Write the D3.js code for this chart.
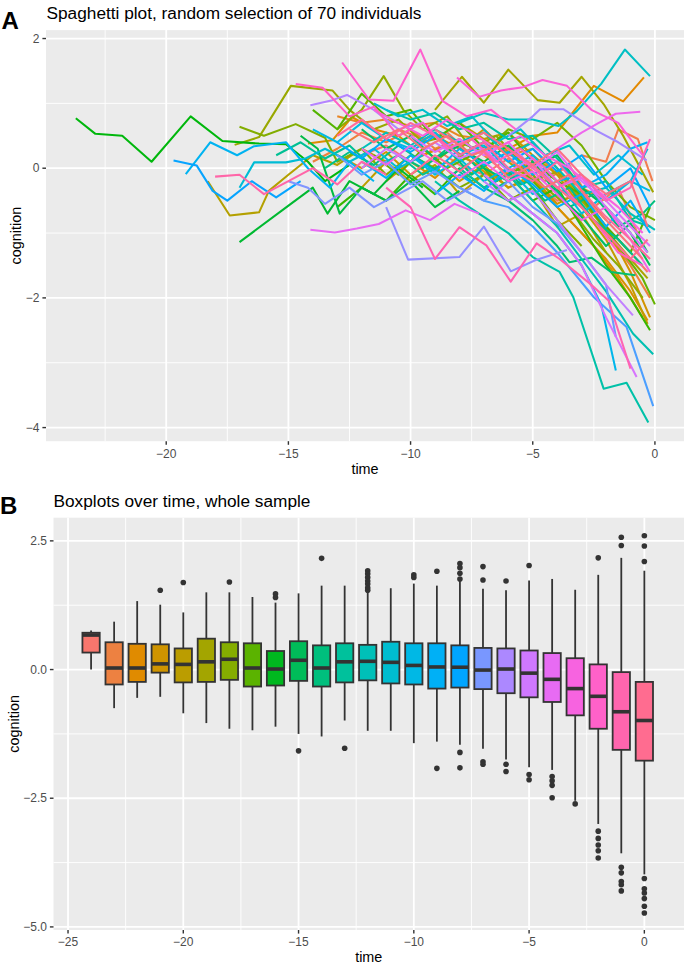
<!DOCTYPE html>
<html><head><meta charset="utf-8">
<script src="https://cdn.jsdelivr.net/npm/d3@7"></script>
<style>body{margin:0;background:#fff;} svg{display:block;font-family:"Liberation Sans",Arial,sans-serif;}</style>
</head><body><svg id="chart" width="685" height="963"></svg>
<script>
// ---------- Panel A: spaghetti data (time, cognition) for 70 individuals ----------
const spagLines = [
 [[-12,0.2],[-11,0.35],[-10,0.1],[-9,0.3],[-8,0.05],[-7,-0.1],[-6,0.15],[-5,-0.2],[-4,-0.5],[-3,-0.4],[-2,-0.9],[-1,-1.3],[-0.3,-1.6]],
 [[-10.5,0.6],[-9.5,0.45],[-8.5,0.55],[-7.5,0.2],[-6.5,0.35],[-5.5,0.1],[-4.5,-0.2],[-3.5,0.05],[-2.5,-0.6],[-1.5,-0.3],[-0.6,-1.1]],
 [[-3,0.2],[-2,0.1],[-1.5,0.6],[-0.7,0.45],[-0.1,-0.2]],
 [[-14,0.1],[-13,0.3],[-12,0.55],[-11,0.4],[-10,0.6],[-9,0.3],[-8,0.45],[-7,0.2],[-6,-0.1],[-5,0.1],[-4,-0.3],[-3,-0.6],[-2,-1.0],[-1,-1.5],[-0.2,-2.0]],
 [[-13,0.8],[-12,0.7],[-11,0.75],[-10,0.65],[-9,0.7],[-8,0.5],[-7,0.45],[-6,0.2],[-5,0.3],[-4,-0.1],[-3,-0.3],[-2,-0.5]],
 [[-6,0.3],[-5,0.5],[-4,0.55],[-3.4,0.84],[-2.5,1.27],[-1.3,1.03],[-0.45,1.40]],
 [[-14.2,0.38],[-13.2,0.43],[-12.4,0.79],[-11.5,0.6],[-10.5,0.5],[-9.5,0.2],[-8.5,0.35],[-7.5,0.1],[-6.5,-0.2],[-5.5,0.05],[-4.5,-0.4],[-3.5,-0.8],[-2.5,-1.2],[-1.5,-1.7],[-0.5,-2.3]],
 [[-11,-0.2],[-10,0.1],[-9,-0.15],[-8,0.2],[-7,0.0],[-6,-0.3],[-5,-0.1],[-4,-0.6],[-3,-1.0],[-2,-1.4],[-1,-1.9],[-0.3,-2.35]],
 [[-9,0.5],[-8,0.3],[-7,0.6],[-6,0.25],[-5,0.4],[-4,0.0],[-3,-0.5],[-2,-0.9],[-1,-1.6],[-0.2,-2.3]],
 [[-13,0.2],[-12,0.0],[-11,0.25],[-10,-0.1],[-9,0.15],[-8,-0.2],[-7,0.05],[-6,-0.3],[-5,-0.15],[-4,-0.55],[-3,-0.35],[-2,-0.8]],
 [[-8,0.7],[-7,0.45],[-6,0.55],[-5,0.2],[-4,-0.1],[-3,-0.6],[-2,-1.1],[-1,-1.8],[-0.3,-2.4]],
 [[-12,-0.3],[-11,0.1],[-10,-0.2],[-9,0.05],[-8,-0.4],[-7,-0.1],[-6,-0.5],[-5,-0.3],[-4,-0.9],[-3,-0.7],[-2,-1.3]],
 [[-18.3,-0.2],[-17.4,-0.73],[-16.2,-0.68],[-15.8,-0.35],[-15,-0.1],[-14,0.2],[-13,0.05],[-12,0.3],[-11,0.1]],
 [[-10,0.3],[-9,0.55],[-8,0.2],[-7,0.4],[-6,0.1],[-5,-0.2],[-4,-0.05],[-3,-0.5],[-2,-0.95],[-1,-1.4],[-0.3,-1.7]],
 [[-9,0.9],[-7.9,1.41],[-7.0,1.01],[-6.0,1.52],[-4.8,1.05],[-3.9,1.01],[-3.0,1.41],[-2.1,0.99],[-1.3,0.50],[-0.07,-0.37]],
 [[-17.2,0.36],[-16.2,0.48],[-14.9,1.27],[-13.2,1.20],[-12.5,0.9],[-11.5,0.6],[-10.5,0.75],[-9.5,0.4],[-8.5,0.5],[-7.5,0.2]],
 [[-13,0.6],[-12,0.9],[-11.1,1.42],[-10.3,0.9],[-9.5,0.6],[-8.5,0.8],[-7.5,0.3],[-6.5,0.5],[-5.5,0.1],[-4.5,-0.3],[-3.5,-0.6],[-2.5,-1.1],[-1.5,-1.5],[-0.5,-2.0]],
 [[-17,0.64],[-16,0.5],[-14.7,0.68],[-13.5,0.47],[-13,0.1],[-12,0.3],[-11,-0.1],[-10,0.2],[-9,0.0],[-8,-0.3],[-7,-0.1],[-6,-0.5],[-5,-0.3],[-4,-0.8],[-3,-1.2]],
 [[-9,0.1],[-8,0.4],[-7,0.25],[-6,0.6],[-5,0.45],[-4,0.7],[-3,0.35],[-2,-0.2],[-1,-0.6],[0,-0.8]],
 [[-11.5,0.2],[-10.5,-0.1],[-9.5,0.3],[-8.5,0.0],[-7.5,0.2],[-6.5,-0.2],[-5.5,0.0],[-4.5,-0.4],[-3.5,-0.2],[-2.5,-0.7],[-1.5,-1.2],[-0.5,-1.7],[0,-2.1]],
 [[-14,0.9],[-13,0.6],[-12,1.15],[-11,0.8],[-10,0.9],[-9,0.45],[-8,0.7],[-7,0.3],[-6,0.55],[-5,0.1],[-4,-0.2],[-3,-0.4],[-2,-0.9],[-1,-1.3],[-0.2,-0.6]],
 [[-13,-0.6],[-12,-0.3],[-11,-0.5],[-10,-0.1],[-9,-0.4],[-8,0.0],[-7,-0.3],[-6,-0.1],[-5,-0.5],[-4,-0.3],[-3,-0.9],[-2,-1.5],[-1,-2.0],[-0.2,-2.5]],
 [[-23.7,0.77],[-22.9,0.53],[-21.8,0.50],[-20.6,0.10],[-19.0,0.80],[-17.7,0.42],[-16.2,0.38],[-15.1,0.37],[-14.2,0.1],[-13.5,-0.2],[-12.5,0.05]],
 [[-17,-1.14],[-14.9,-0.55],[-14,-0.3],[-13.4,-0.7],[-12.5,-0.2],[-11.5,-0.4],[-10.5,0.0],[-9.5,-0.3]],
 [[-14.5,0.5],[-13.8,0.3],[-12.9,-0.7],[-12,-0.3],[-11,-0.5],[-10,-0.2],[-9,-0.6],[-8,-0.35]],
 [[-8,0.3],[-7,0.1],[-6,0.35],[-5,0.0],[-4,0.2],[-3,-0.3],[-2,-0.6],[-1,-1.0],[-0.2,-1.5]],
 [[-12,0.6],[-11,0.3],[-10,0.5],[-9,0.15],[-8,0.35],[-7,0.0],[-6,-0.2],[-5,0.1],[-4,-0.4],[-3,-0.75],[-2,-1.2],[-1,-0.85],[-0.3,-1.3]],
 [[-7,-0.3],[-6,-0.5],[-5,-0.8],[-4,-1.2],[-3.5,-1.45],[-2.6,-1.38],[-1.8,-1.6],[-0.8,-1.65]],
 [[-10.5,0.2],[-9.5,0.0],[-8.5,0.3],[-7.5,-0.1],[-6.5,0.15],[-5.5,-0.25],[-4.5,-0.1],[-3.5,-0.6],[-2.5,-0.4],[-1.5,-0.9],[-0.5,-0.7],[0,-0.5]],
 [[-13.5,0.0],[-12.5,0.25],[-11.5,0.05],[-10.5,0.35],[-9.5,0.1],[-8.5,-0.15],[-7.5,0.1],[-6.5,-0.3],[-5.5,-0.1],[-4.5,-0.5],[-3.5,-0.3],[-2.5,-0.8],[-1.5,-1.1],[-0.5,-1.5]],
 [[-15.5,0.2],[-14.5,0.4],[-13.5,0.15],[-12.5,0.35],[-11.5,0.0],[-10.5,0.2],[-9.5,-0.1],[-8.5,0.1],[-7.5,-0.2]],
 [[-11,0.9],[-10,0.75],[-9,0.85],[-8,0.6],[-7,0.7],[-6,0.45],[-5,0.5],[-4,0.15],[-3,-0.3],[-2,-0.2],[-1,-0.8],[-0.2,-0.9]],
 [[-9,-0.2],[-8,-0.5],[-7,-0.75],[-6,-1.0],[-5,-1.37],[-3.9,-1.60],[-3.34,-1.99],[-2.1,-3.40],[-1.16,-3.31],[-0.27,-3.92]],
 [[-8,0.0],[-7,-0.3],[-6,-0.1],[-5,-0.5],[-4,-0.9],[-3,-1.4],[-2,-1.9],[-0.9,-2.55],[-0.07,-2.87]],
 [[-12,0.3],[-11,0.55],[-10,0.35],[-9,0.6],[-8,0.4],[-7,0.55],[-6,0.2],[-5,0.4],[-4,0.0],[-3,-0.4],[-2,-0.3],[-1,-0.7],[0,-0.95]],
 [[-8,0.7],[-7,0.85],[-6,0.75],[-5,0.75],[-3.95,0.65],[-3.2,0.88],[-2.2,1.3],[-1.23,1.83],[-0.2,1.42]],
 [[-11.5,1.0],[-10.5,0.8],[-9.5,0.9],[-8.5,0.65],[-7.5,0.8],[-6.5,0.4],[-5.5,0.6],[-4.5,0.2],[-3.5,0.35],[-2.5,-0.1],[-1.5,0.2],[-0.5,-0.1]],
 [[-17,-0.3],[-16.4,0.09],[-15.1,0.09],[-14.3,0.15],[-13.5,0.3],[-12.5,0.1],[-11.5,0.3],[-10.5,0.0],[-9.5,0.2]],
 [[-10,0.2],[-9,-0.1],[-8,0.15],[-7,-0.2],[-6,0.0],[-5,-0.4],[-4,-0.2],[-3,-0.7],[-2,-0.4],[-1,-0.2],[-0.3,0.3]],
 [[-14,0.6],[-13,0.4],[-12,0.7],[-11,0.45],[-10,0.3],[-9,0.55],[-8,0.2],[-7,0.35],[-6,0.0],[-5,0.2],[-4,-0.2],[-3,-0.1],[-2,-0.5],[-1,-0.2],[-0.2,-0.35]],
 [[-6,-0.4],[-5,-0.7],[-4,-1.0],[-3,-1.5],[-2.2,-2.1],[-1.6,-3.12]],
 [[-19.2,-0.09],[-18.2,0.40],[-17.1,0.20],[-16.4,0.34],[-15.1,0.40],[-14.2,0.0],[-13.3,-0.3],[-12.5,0.1],[-11.5,-0.2]],
 [[-12,0.1],[-11,-0.15],[-10,0.2],[-9,-0.05],[-8,0.3],[-7,0.05],[-6,0.25],[-5,-0.1],[-4,0.1],[-3,-0.3],[-2,-0.1],[-1,0.3],[-0.3,0.4]],
 [[-9,-0.4],[-8,-0.1],[-7,-0.35],[-6,0.0],[-5,-0.25],[-4,-0.6],[-3,-0.4],[-2,-0.9],[-1,-0.5],[-0.2,-1.0]],
 [[-13,0.4],[-12,0.15],[-11,0.45],[-10,0.25],[-9,0.5],[-8,0.2],[-7,0.4],[-6,0.1],[-5,0.3],[-4,-0.05],[-3,0.2],[-2,-0.3],[-1,0.0],[-0.2,-0.6]],
 [[-19.7,0.12],[-18.75,0.04],[-18.1,-0.35],[-17.5,-0.5],[-16.5,-0.2],[-15.5,-0.45],[-14.5,-0.2]],
 [[-8,-0.3],[-7,-0.5],[-6,-0.6],[-5,-0.9],[-4,-1.3],[-2.5,-1.99],[-1.16,-2.45],[-0.07,-3.67]],
 [[-13,0.2],[-12,-0.1],[-11,0.1],[-10,-0.25],[-9,-0.05],[-8,-0.3],[-7,-0.5],[-6,-0.2],[-5,-0.6],[-4,-0.85],[-3,-1.3],[-2,-1.8],[-1.6,-2.6]],
 [[-15,-0.2],[-14.2,-0.3],[-13.5,-0.55],[-12.5,-0.3],[-11.5,-0.6],[-10.5,-0.4],[-9.5,-0.2],[-8.5,-0.5],[-7.5,-0.3]],
 [[-11,-0.6],[-10.1,-1.41],[-8.0,-1.37],[-7,-0.9],[-5.9,-1.59],[-4.9,-1.42],[-3.6,-1.26]],
 [[-6,0.5],[-5,0.8],[-4.7,0.91],[-3.75,0.91],[-2.4,0.58],[-1.5,0.4],[-0.34,0.12]],
 [[-14.1,0.97],[-13.2,1.05],[-12.6,1.13],[-11.5,0.9],[-10.5,0.6],[-9.5,0.7],[-8.5,0.3],[-7.5,0.45],[-6.5,0.1]],
 [[-7,-0.2],[-6,-0.5],[-5,-0.35],[-4,-0.8],[-3,-1.3],[-2,-1.8],[-0.9,-2.27]],
 [[-12,0.0],[-11,0.3],[-10,0.1],[-9,0.4],[-8,0.15],[-7,0.3],[-6,-0.05],[-5,0.15],[-4,-0.3],[-3,-0.15],[-2,-0.6],[-1,-1.0],[-0.3,-1.3]],
 [[-7,-0.1],[-6,-0.4],[-5,-0.7],[-4,-1.0],[-3,-1.5],[-2,-2.3],[-0.75,-3.22]],
 [[-10,0.5],[-9,0.25],[-8,0.45],[-7,0.2],[-6,0.4],[-5,0.0],[-4,0.25],[-3,-0.2],[-2,-0.5],[-1,-0.9],[-0.2,-1.2]],
 [[-14.1,-0.95],[-13.1,-0.99],[-12.2,-0.93],[-11.3,-0.86],[-10.2,-0.65],[-9.2,-0.8],[-8.2,-0.55],[-7.2,-0.7]],
 [[-4,0.3],[-3,0.55],[-2.3,0.7],[-1.6,0.84],[-0.6,0.87]],
 [[-12,0.3],[-11,0.05],[-10,0.35],[-9,0.1],[-8,-0.15],[-7,0.1],[-6,-0.2],[-5,-0.05],[-4,-0.4],[-3,-0.8],[-2,-0.6],[-1,-1.1],[-0.2,-1.6]],
 [[-11.5,0.9],[-10.5,0.7],[-9.5,0.5],[-8.5,0.75],[-7.5,0.55],[-6.5,0.3],[-5.5,0.5],[-4.5,0.2],[-3.5,0.0],[-2.5,-0.3],[-1.5,-0.6],[-0.5,-1.0]],
 [[-8.1,1.40],[-7.2,1.1],[-6.3,1.2],[-5.4,1.25],[-4.6,1.36],[-3.6,1.27],[-2.6,0.9],[-1.5,0.7],[-0.5,0.2]],
 [[-12.8,1.63],[-11.7,1.06],[-10.7,1.04],[-9.6,1.83],[-8.7,1.04],[-7.7,0.8],[-6.7,0.9],[-5.7,0.6]],
 [[-14.7,1.30],[-13.6,1.24],[-12.5,0.8],[-11.5,0.95],[-10.5,0.5],[-9.5,0.7],[-8.5,0.3],[-7.5,0.45],[-6.5,0.1],[-5.5,0.3],[-4.5,0.0],[-3.5,-0.4],[-2.5,-0.8],[-1.5,-1.3],[-0.5,-1.5]],
 [[-6,0.3],[-5,0.0],[-4,-0.3],[-3,-0.1],[-2,-0.5],[-1,-0.3],[-0.2,0.45]],
 [[-11,-0.3],[-10,-0.60],[-9,-1.40],[-8,-0.91],[-6.9,-1.19],[-5.9,-1.75],[-4.84,-1.16],[-3.9,-1.40],[-2.66,-1.78],[-1.9,-2.04],[-1.0,-3.09]],
 [[-18,-0.13],[-17,-0.1],[-16,-0.4],[-15,-0.2],[-14,0.0],[-13,-0.25],[-12,0.1],[-11,-0.1]],
 [[-13,0.5],[-12,0.75],[-11,0.45],[-10,0.7],[-9,0.5],[-8,0.2],[-7,0.4],[-6,0.0],[-5,-0.2],[-4,0.1],[-3,-0.35],[-2,-0.75],[-1,-1.1],[-0.2,-1.4]],
 [[-10,-0.1],[-9,0.2],[-8,-0.05],[-7,0.25],[-6,-0.15],[-5,0.05],[-4,-0.3],[-3,-0.6],[-2,-1.0],[-1,-1.4],[-0.3,-1.1]],
 [[-9,0.6],[-8,0.35],[-7,0.55],[-6,0.3],[-5,0.05],[-4,0.3],[-3,-0.1],[-2,-0.4],[-1,-0.2],[-0.3,-0.9]],
 [[-12.5,0.6],[-11.5,0.4],[-10.5,0.6],[-9.5,0.3],[-8.5,0.5],[-7.5,0.2],[-6.5,0.35],[-5.5,0.0],[-4.5,-0.3],[-3.5,-0.1],[-2.5,-0.6],[-1.5,-1.0],[-0.5,-1.4]]
];
const aXTicks = [-20, -15, -10, -5, 0];
const aYTicks = [2, 0, -2, -4];

// ---------- Panel B: boxplot summaries per time ----------
const boxTimes  = [-24,-23,-22,-21,-20,-19,-18,-17,-16,-15,-14,-13,-12,-11,-10,-9,-8,-7,-6,-5,-4,-3,-2,-1,0];
const boxLower  = [0.00,-0.75,-0.55,-0.53,-0.85,-1.04,-1.15,-1.18,-1.11,-1.25,-1.30,-0.99,-1.19,-1.19,-1.43,-1.40,-1.46,-1.54,-1.75,-1.90,-1.95,-2.55,-3.00,-3.57,-3.98];
const boxQ1     = [0.33,-0.29,-0.24,-0.06,-0.25,-0.24,-0.20,-0.33,-0.31,-0.22,-0.33,-0.25,-0.21,-0.27,-0.29,-0.37,-0.35,-0.38,-0.46,-0.54,-0.63,-0.89,-1.15,-1.56,-1.77];
const boxMedian = [0.67,0.03,0.03,0.11,0.10,0.15,0.20,0.03,0.01,0.18,0.03,0.15,0.16,0.14,0.08,0.05,0.045,-0.01,0.01,-0.07,-0.19,-0.37,-0.52,-0.82,-0.99];
const boxQ3     = [0.715,0.53,0.50,0.49,0.41,0.60,0.53,0.51,0.36,0.55,0.47,0.51,0.48,0.54,0.51,0.51,0.47,0.42,0.41,0.37,0.32,0.22,0.10,-0.05,-0.24];
const boxUpper  = [0.76,0.93,1.33,1.26,1.11,1.50,1.50,1.41,1.30,1.48,1.63,1.63,1.52,1.58,1.67,1.63,1.72,1.57,1.54,1.73,1.76,1.55,1.84,2.17,1.92];
const boxOutliers = [
 [], [], [], [1.54], [1.69], [], [1.70], [], [1.47,1.40], [-1.58], [2.16], [-1.53],
 [1.92,1.86,1.79,1.72,1.66,1.59,1.54], [], [1.84,1.79], [1.91,-1.92],
 [2.06,1.98,1.87,1.76,-1.61,-1.91], [2.00,1.74,-1.79,-1.84], [1.72,-1.84,-1.98], [2.02,-2.04,-2.14],
 [-2.08,-2.16,-2.25,-2.49], [-2.61], [2.17,-3.14,-3.28,-3.41,-3.52,-3.66],
 [2.57,2.41,-3.84,-3.95,-4.12,-4.18,-4.30], [2.60,2.40,2.10,-4.06,-4.26,-4.34,-4.45,-4.60,-4.73]
];
const bXTicks = [-25, -20, -15, -10, -5, 0];
const bYTicks = [2.5, 0, -2.5, -5];

// ggplot2 default hue palette: hcl(h, c = 100, l = 65) in polar CIE-Luv
function hueColor(h) {
  const L = 65, C = 100, hr = h * Math.PI / 180;
  const U = C * Math.cos(hr), V = C * Math.sin(hr);
  const Xn = 0.95047, Yn = 1.0, Zn = 1.08883;
  const den = Xn + 15 * Yn + 3 * Zn;
  const un = 4 * Xn / den, vn = 9 * Yn / den;
  const Y = Yn * Math.pow((L + 16) / 116, 3);
  const u = U / (13 * L) + un, v = V / (13 * L) + vn;
  const X = Y * 9 * u / (4 * v);
  const Z = Y * (12 - 3 * u - 20 * v) / (4 * v);
  let r = 3.2404542 * X - 1.5371385 * Y - 0.4985314 * Z;
  let g = -0.9692660 * X + 1.8760108 * Y + 0.0415560 * Z;
  let b = 0.0556434 * X - 0.2040259 * Y + 1.0572252 * Z;
  const gam = c => { c = c <= 0.0031308 ? 12.92 * c : 1.055 * Math.pow(c, 1 / 2.4) - 0.055; return Math.round(255 * Math.max(0, Math.min(1, c))); };
  return d3.rgb(gam(r), gam(g), gam(b)).formatHex();
}
function huePalette(n) { return d3.range(n).map(i => hueColor(15 + i * 360 / n)); }

const svg = d3.select("#chart");
const fmtA = d => d < 0 ? "\u2212" + Math.abs(d) : String(d);
const fmtB = d => d < 0 ? "\u2212" + Math.abs(d).toFixed(1) : d.toFixed(1);

function panel(opt) {
  const {x, y, xMajor, xMinor, yMajor, yMinor, fmtX, fmtY, xLabelY, yLabelX, yTitleX, xTitleY} = opt;
  const [l, r] = x.range(); const [b, t] = y.range();
  const g = svg.append("g");
  g.append("rect").attr("x", l).attr("y", t).attr("width", r - l).attr("height", b - t).attr("fill", "#EBEBEB");
  g.selectAll(".vmin").data(xMinor).join("line").attr("x1", d => x(d)).attr("x2", d => x(d)).attr("y1", t).attr("y2", b).attr("stroke", "#fff").attr("stroke-width", 0.9);
  g.selectAll(".hmin").data(yMinor).join("line").attr("y1", d => y(d)).attr("y2", d => y(d)).attr("x1", l).attr("x2", r).attr("stroke", "#fff").attr("stroke-width", 0.9);
  g.selectAll(".vmaj").data(xMajor).join("line").attr("x1", d => x(d)).attr("x2", d => x(d)).attr("y1", t).attr("y2", b).attr("stroke", "#fff").attr("stroke-width", 1.8);
  g.selectAll(".hmaj").data(yMajor).join("line").attr("y1", d => y(d)).attr("y2", d => y(d)).attr("x1", l).attr("x2", r).attr("stroke", "#fff").attr("stroke-width", 1.8);
  const ax = g.append("g");
  ax.selectAll(".xt").data(xMajor).join("line").attr("x1", d => x(d)).attr("x2", d => x(d)).attr("y1", b).attr("y2", b + 3.6).attr("stroke", "#333").attr("stroke-width", 1.4);
  ax.selectAll(".yt").data(yMajor).join("line").attr("y1", d => y(d)).attr("y2", d => y(d)).attr("x1", l - 3.6).attr("x2", l).attr("stroke", "#333").attr("stroke-width", 1.4);
  ax.selectAll(".xl").data(xMajor).join("text").attr("x", d => x(d)).attr("y", xLabelY).attr("text-anchor", "middle").attr("font-size", 12).attr("fill", "#4D4D4D").text(fmtX);
  ax.selectAll(".yl").data(yMajor).join("text").attr("x", yLabelX).attr("y", d => y(d) + 4.2).attr("text-anchor", "end").attr("font-size", 12).attr("fill", "#4D4D4D").text(fmtY);
  ax.append("text").attr("x", (l + r) / 2).attr("y", xTitleY).attr("text-anchor", "middle").attr("font-size", 14.4).attr("fill", "#000").text("time");
  ax.append("text").attr("transform", `translate(${yTitleX},${(t + b) / 2}) rotate(-90)`).attr("text-anchor", "middle").attr("font-size", 14.4).attr("fill", "#000").text("cognition");
  return g;
}

// ---------------- Panel A ----------------
const xA = d3.scaleLinear().domain([-24.92, 1.19]).range([46, 684]);
const yA = d3.scaleLinear().domain([-4.21, 2.13]).range([441.2, 30.1]);
const gA = panel({x: xA, y: yA, xMajor: aXTicks, xMinor: [-22.5, -17.5, -12.5, -7.5, -2.5], yMajor: aYTicks, yMinor: [1, -1, -3],
  fmtX: fmtA, fmtY: fmtA, xLabelY: 457.8, yLabelX: 39.5, yTitleX: 21, xTitleY: 473.5});
const colA = huePalette(spagLines.length);
const line = d3.line().x(d => xA(d[0])).y(d => yA(d[1]));
gA.append("g").selectAll("path").data(spagLines).join("path")
  .attr("d", line).attr("fill", "none").attr("stroke", (d, i) => colA[i]).attr("stroke-width", 2.05).attr("stroke-linejoin", "round");
svg.append("text").attr("x", 46.5).attr("y", 18.5).attr("font-size", 17.25).attr("fill", "#000").text("Spaghetti plot, random selection of 70 individuals");
svg.append("text").attr("x", 1.5).attr("y", 29).attr("font-size", 24).attr("font-weight", "bold").attr("fill", "#000").text("A");

// ---------------- Panel B ----------------
const xB = d3.scaleLinear().domain([-25.63, 1.72]).range([53.5, 684]);
const yB = d3.scaleLinear().domain([-5.06, 2.95]).range([930, 517.7]);
const gB = panel({x: xB, y: yB, xMajor: bXTicks, xMinor: [-22.5, -17.5, -12.5, -7.5, -2.5], yMajor: bYTicks, yMinor: [1.25, -1.25, -3.75],
  fmtX: fmtA, fmtY: fmtB, xLabelY: 945.8, yLabelX: 47, yTitleX: 18.5, xTitleY: 961.5});
const colB = huePalette(boxTimes.length);
const hw = (xB(0.375) - xB(0));
const boxes = gB.append("g").selectAll("g").data(boxTimes).join("g");
boxes.append("line").attr("x1", d => xB(d)).attr("x2", d => xB(d)).attr("y1", (d, i) => yB(boxUpper[i])).attr("y2", (d, i) => yB(boxQ3[i])).attr("stroke", "#333").attr("stroke-width", 1.8);
boxes.append("line").attr("x1", d => xB(d)).attr("x2", d => xB(d)).attr("y1", (d, i) => yB(boxLower[i])).attr("y2", (d, i) => yB(boxQ1[i])).attr("stroke", "#333").attr("stroke-width", 1.8);
boxes.append("rect").attr("x", d => xB(d) - hw).attr("width", 2 * hw)
  .attr("y", (d, i) => yB(boxQ3[i])).attr("height", (d, i) => yB(boxQ1[i]) - yB(boxQ3[i]))
  .attr("fill", (d, i) => colB[i]).attr("stroke", "#333").attr("stroke-width", 1.8);
boxes.append("line").attr("x1", d => xB(d) - hw).attr("x2", d => xB(d) + hw).attr("y1", (d, i) => yB(boxMedian[i])).attr("y2", (d, i) => yB(boxMedian[i])).attr("stroke", "#333").attr("stroke-width", 3.6);
boxes.each(function (d, i) {
  d3.select(this).selectAll("circle").data(boxOutliers[i]).join("circle")
    .attr("cx", xB(d)).attr("cy", v => yB(v)).attr("r", 2.8).attr("fill", "#333");
});
svg.append("text").attr("x", 53.5).attr("y", 506.7).attr("font-size", 17.25).attr("fill", "#000").text("Boxplots over time, whole sample");
svg.append("text").attr("x", 0).attr("y", 513.5).attr("font-size", 24).attr("font-weight", "bold").attr("fill", "#000").text("B");
</script></body></html>
